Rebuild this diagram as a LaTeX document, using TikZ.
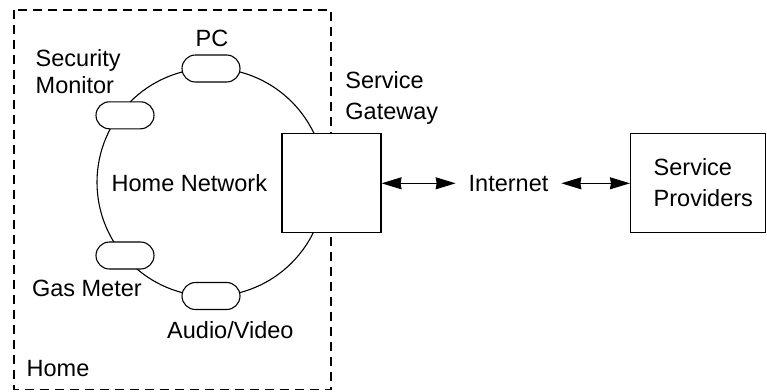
\documentclass[tikz,border=0pt]{standalone}
\usepackage{fontspec}
\setmainfont{Liberation Sans}
\usetikzlibrary{arrows.meta}
\begin{document}
\begin{tikzpicture}[x=1pt,y=-1pt,
  lbl/.style={inner sep=0pt, font=\fontsize{23.5}{27.5}\selectfont},
  lblw/.style={inner sep=0pt, align=left, font=\fontsize{23.5}{31.5}\selectfont},
  dev/.style={draw, line width=1.1pt, fill=white, rounded corners=13.5pt, minimum width=58pt, minimum height=27pt, inner sep=0pt},
  boxn/.style={draw, line width=1.1pt, fill=white, inner sep=0pt},
  homebox/.style={draw, line width=1.1pt, dash pattern=on 9pt off 6pt},
  link/.style={line width=1.1pt, {Stealth[length=20pt,width=12pt,inset=1pt]}-{Stealth[length=20pt,width=12pt,inset=1pt]}}
]
\useasboundingbox (0,0) rectangle (767,391);
% home boundary
\draw[homebox] (14,10) rectangle (331,389.5);
% home network ring
\node[draw, circle, line width=1.1pt, minimum size=228pt, inner sep=0pt] (ring) at (211,182.3) {};
% devices
\node[dev] (pc) at (211,68.5) {};
\node[dev] (sec) at (125,115.3) {};
\node[dev] (gas) at (125,255.5) {};
\node[dev] (av) at (211,296) {};
% boxes
\node[boxn, minimum width=99pt, minimum height=99.5pt] (gw) at (331.5,183) {};
\node[boxn, minimum width=135pt, minimum height=99.5pt] (sp) at (698,183) {};
% internet
\node[lbl, inner xsep=12.8pt] (inet) at (508.5,183.3) {Internet};
\draw[link] (gw.east |- inet.center) -- (inet.west);
\draw[link] (inet.east) -- (sp.west |- inet.center);
% labels
\node[lbl, anchor=base] (pcl) at (212,46) {PC};
\node[lbl, align=left, anchor=north west] (secl) at (35.5,48.9) {Security\\Monitor};
\node[lblw, anchor=north west] (gwl) at (345.2,71.2) {Service\\Gateway};
\node[lblw, anchor=north west] (spl) at (653.5,158) {Service\\Providers};
\node[lbl, anchor=base west] (hn) at (111.5,191) {Home Network};
\node[lbl, anchor=base west] (gasl) at (31.8,296) {Gas Meter};
\node[lbl, anchor=base west] (avl) at (167,338.3) {Audio/Video};
\node[lbl, anchor=base west] (home) at (26.5,376.7) {Home};
\end{tikzpicture}
\end{document}
